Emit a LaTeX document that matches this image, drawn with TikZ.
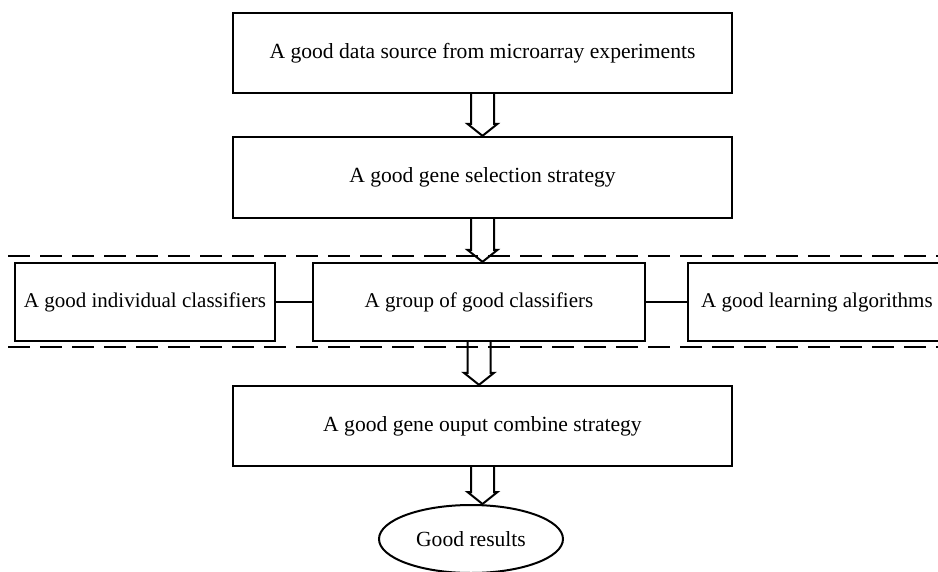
\documentclass[tikz,border=0pt]{standalone}
\usepackage{fontspec}
\setmainfont{Liberation Serif}
\usetikzlibrary{calc,shapes.geometric}
\begin{document}
\begin{tikzpicture}[x=1pt,y=-1pt,
  box/.style={draw,line width=2.3pt,rectangle,minimum height=80pt,inner sep=0pt,
    font=\fontsize{21.6}{24}\selectfont},
  sidebox/.style={box,minimum height=78pt,font=\fontsize{21}{24}\selectfont},
  oval/.style={draw,line width=2pt,ellipse,minimum width=184pt,minimum height=68pt,inner sep=0pt,
    font=\fontsize{21.6}{24}\selectfont},
  link/.style={line width=2pt},
  band/.style={line width=1.2pt,dash pattern=on 22pt off 10pt},
  hollow/.style={line width=2pt,line join=miter}]
\useasboundingbox (0,0) rectangle (938,571);
\clip (0,0) rectangle (938,571);

\node[box,minimum width=499pt] (src) at (482.5,53) {A good data source from microarray experiments};
\node[box,minimum width=499pt,minimum height=81pt] (sel) at (482.5,177.5) {A good gene selection strategy};

\node[sidebox,minimum width=260pt] (indiv) at (145,302) {A good individual classifiers};
\node[sidebox,minimum width=332pt] (group) at (479,302) {A group of good classifiers};
\node[sidebox,anchor=west,inner xsep=13pt] (learn) at (687,302) {A good learning algorithms};

\node[box,minimum width=499pt] (comb) at (482.5,426) {A good gene ouput combine strategy};
\node[oval] (res) at (471,539) {Good results};

% dashed band around the classifier row
\coordinate (bandTL) at (8,256);
\coordinate (bandTR) at (938,256);
\coordinate (bandBL) at (8,347);
\coordinate (bandBR) at (938,347);
\draw[band] (bandTL) -- (bandTR);
\draw[band] (bandBL) -- (bandBR);

\draw[link] (indiv.east) -- (group.west);
\draw[link] (group.east) -- (learn.west);

% hollow block arrow from the bottom of #1 down to the top of #2
\newcommand\blockarrow[2]{%
  \draw[hollow] let \p1=(#1.south), \p2=(#2.north) in
    (\x1-11.5pt,\y1) -- (\x1-11.5pt,\y2+12pt) -- (\x1-15pt,\y2+12pt) -- (\x1,\y2)
    -- (\x1+15pt,\y2+12pt) -- (\x1+11.5pt,\y2+12pt) -- (\x1+11.5pt,\y1);}
\blockarrow{src}{sel}
\blockarrow{sel}{group}
\blockarrow{group}{comb}
\blockarrow{comb}{res}
\end{tikzpicture}
\end{document}
